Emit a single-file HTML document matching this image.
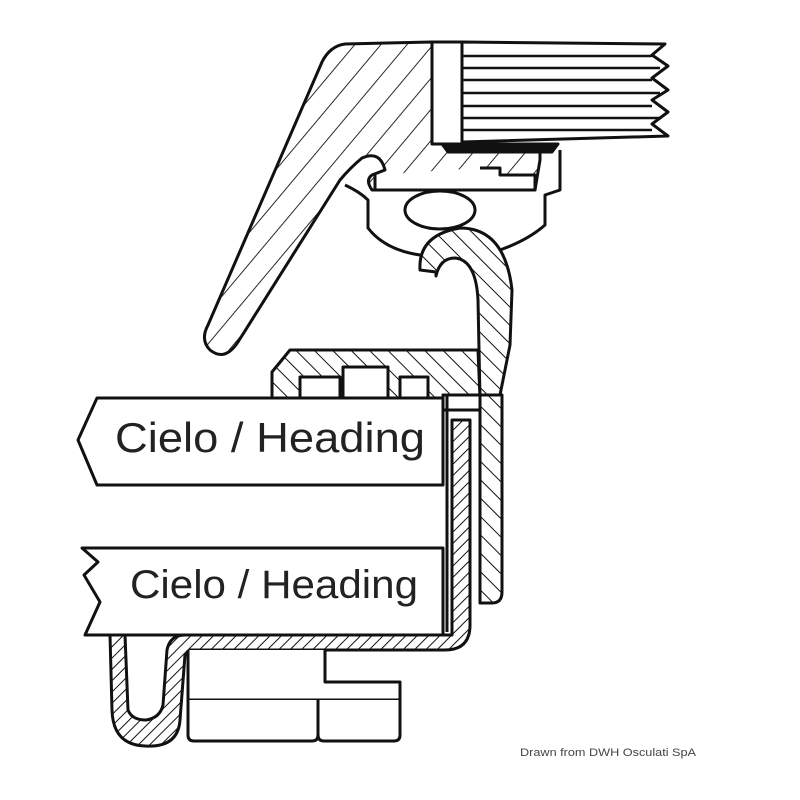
<!DOCTYPE html>
<html><head><meta charset="utf-8"><style>
html,body{margin:0;padding:0;background:#fff;}
svg{display:block;}
text{font-family:"Liberation Sans",sans-serif;}
</style></head><body>
<svg width="800" height="800" viewBox="0 0 800 800" xmlns="http://www.w3.org/2000/svg">
<defs>
<pattern id="h" width="20" height="20" patternUnits="userSpaceOnUse" patternTransform="rotate(40)">
<rect width="20" height="20" fill="#fff"/><line x1="0" y1="0" x2="0" y2="20" stroke="#111" stroke-width="1.8"/></pattern>
<pattern id="h2" width="13" height="13" patternUnits="userSpaceOnUse" patternTransform="rotate(-45)">
<rect width="13" height="13" fill="#fff"/><line x1="0" y1="0" x2="0" y2="13" stroke="#111" stroke-width="2"/></pattern>
<pattern id="hf" width="8" height="8" patternUnits="userSpaceOnUse" patternTransform="rotate(45)">
<rect width="8" height="8" fill="#fff"/><line x1="0" y1="0" x2="0" y2="8" stroke="#111" stroke-width="2"/></pattern>
</defs>
<g stroke="#111" stroke-width="3" stroke-linejoin="round" fill="none">
<path d="M345 44 L432 42 L432 120 Q435 140 455 148 L540 148 L540 160 L535 190 L372 190 Q365 180 372 175 L385 170 Q380 150 362 158 Q350 168 340 180 L238 342 Q225 362 210 350 Q200 340 208 325 L322 62 Q330 46 345 44 Z" fill="url(#h)"/>
<rect x="432" y="42" width="30" height="102" fill="#fff"/>
<path d="M462 42 L665 44 L652 55 L668 66 L652 78 L668 90 L652 100 L668 112 L652 124 L668 136 L462 142 Z" fill="#fff"/>
<g stroke-width="2.4">
<line x1="462" y1="56" x2="652" y2="56"/><line x1="462" y1="68" x2="660" y2="68"/>
<line x1="462" y1="80" x2="652" y2="80"/><line x1="462" y1="93" x2="660" y2="93"/>
<line x1="462" y1="106" x2="652" y2="106"/><line x1="462" y1="118" x2="660" y2="118"/>
<line x1="462" y1="130" x2="652" y2="130"/>
</g>
<path d="M442 144 L558 144 L552 152 L448 152 Z" fill="#111"/>
<path d="M375 175 L375 190 L535 190 L535 175 L500 175 L500 168 L480 168" fill="#fff"/>
<path d="M345 185 Q360 192 368 200 L368 228 Q385 250 420 255 L500 250 Q528 240 545 225 L545 195 L560 190 L560 150" fill="none"/>
<ellipse cx="440" cy="210" rx="35" ry="19" fill="#fff"/>
<path d="M420 270 Q418 235 460 228 Q505 228 512 290 L510 345 L500 395 L480 398 L478 300 Q476 260 455 258 Q440 258 436 276 L436 272 Z" fill="url(#h2)"/>
<path d="M290 350 L478 350 L480 398 L272 398 L272 372 Z" fill="url(#h2)"/>
<rect x="300" y="377" width="40" height="21" fill="#fff"/>
<rect x="343" y="367" width="45" height="31" fill="#fff"/>
<rect x="400" y="377" width="28" height="21" fill="#fff"/>
<path d="M443 395 L502 395 L502 592 Q502 603 492 603 L480 603 L480 410 L443 410 Z" fill="url(#h2)"/>
<rect x="443" y="395" width="37" height="15" fill="#fff"/>
<path d="M452 420 L470 420 L470 625 Q470 650 445 650 L190 650 L185 655 L180 720 Q178 748 145 746 Q113 745 112 710 L110 635 L125 635 L128 710 Q132 720 146 720 Q160 718 163 705 L167 650 Q170 635 185 635 L452 635 Z" fill="url(#hf)"/>
<line x1="447" y1="395" x2="447" y2="632"/>
<path d="M97 398 L443 398 L443 485 L97 485 L78 440 Z" fill="#fff"/>
<path d="M82 548 L443 548 L443 635 L85 635 L100 602 L84 575 L98 562 Z" fill="#fff"/>
<path d="M188 650 L188 700 L400 700 L400 682 L325 682 L325 650" fill="#fff"/>
<path d="M188 700 L188 735 Q188 741 194 741 L312 741 Q318 741 318 735 L318 700" fill="#fff"/>
<path d="M318 700 L318 735 Q318 741 324 741 L394 741 Q400 741 400 735 L400 700" fill="#fff"/>
</g>
<text x="115" y="452" font-size="42" fill="#222" textLength="310" lengthAdjust="spacingAndGlyphs">Cielo / Heading</text>
<text x="130" y="598" font-size="40" fill="#222" textLength="288" lengthAdjust="spacingAndGlyphs">Cielo / Heading</text>
<text x="520" y="756" font-size="11" fill="#444" textLength="176" lengthAdjust="spacingAndGlyphs">Drawn from DWH Osculati SpA</text>
</svg>
</body></html>
